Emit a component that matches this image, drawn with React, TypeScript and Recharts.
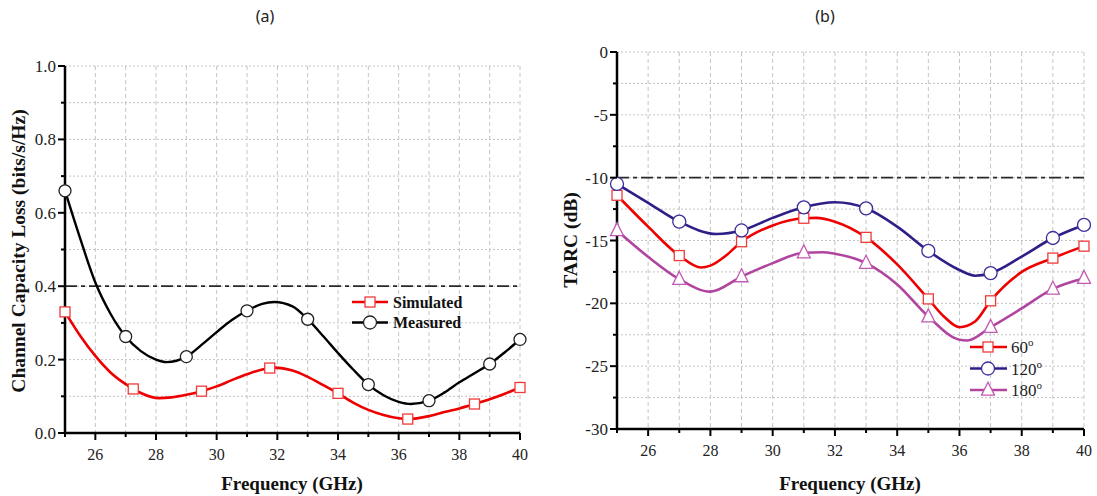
import { ComposedChart, Line, XAxis, YAxis, CartesianGrid, ReferenceLine } from 'recharts'

// ── Data ───────────────────────────────────────────────────────────────────────
const freqTicks = [25, 26, 27, 28, 29, 30, 31, 32, 33, 34, 35, 36, 37, 38, 39, 40]
const freqMajor = [26, 28, 30, 32, 34, 36, 38, 40]

const capTicks = [0, 0.1, 0.2, 0.3, 0.4, 0.5, 0.6, 0.7, 0.8, 0.9, 1.0]
const capMajor = [0, 0.2, 0.4, 0.6, 0.8, 1.0]

const tarcTicks = [-30, -27.5, -25, -22.5, -20, -17.5, -15, -12.5, -10, -7.5, -5, -2.5, 0]
const tarcMajor = [-30, -25, -20, -15, -10, -5, 0]

// (a) channel capacity loss
const measuredCurve = [
  { x: 25, y: 0.66 }, { x: 25.5, y: 0.53 }, { x: 26, y: 0.41 }, { x: 26.5, y: 0.325 },
  { x: 27, y: 0.263 }, { x: 27.5, y: 0.223 }, { x: 28, y: 0.2 }, { x: 28.35, y: 0.193 },
  { x: 29, y: 0.208 }, { x: 29.5, y: 0.24 }, { x: 30, y: 0.275 }, { x: 30.5, y: 0.308 },
  { x: 31, y: 0.333 }, { x: 31.5, y: 0.352 }, { x: 31.9, y: 0.357 }, { x: 32.5, y: 0.345 },
  { x: 33, y: 0.31 }, { x: 33.5, y: 0.265 }, { x: 34, y: 0.218 }, { x: 34.5, y: 0.173 },
  { x: 35, y: 0.132 }, { x: 35.5, y: 0.103 }, { x: 36, y: 0.085 }, { x: 36.4, y: 0.079 },
  { x: 37, y: 0.088 }, { x: 37.5, y: 0.11 }, { x: 38, y: 0.138 }, { x: 38.5, y: 0.163 },
  { x: 39, y: 0.188 }, { x: 39.5, y: 0.22 }, { x: 40, y: 0.255 },
]
const measuredMarks = [
  { x: 25, y: 0.66 }, { x: 27, y: 0.263 }, { x: 29, y: 0.208 }, { x: 31, y: 0.333 },
  { x: 33, y: 0.31 }, { x: 35, y: 0.132 }, { x: 37, y: 0.088 }, { x: 39, y: 0.188 },
  { x: 40, y: 0.255 },
]
const simulatedCurve = [
  { x: 25, y: 0.33 }, { x: 25.5, y: 0.265 }, { x: 26, y: 0.21 }, { x: 26.5, y: 0.165 },
  { x: 27, y: 0.133 }, { x: 27.25, y: 0.12 }, { x: 27.5, y: 0.109 }, { x: 28.1, y: 0.095 },
  { x: 28.5, y: 0.097 }, { x: 29, y: 0.104 }, { x: 29.5, y: 0.114 }, { x: 30, y: 0.127 },
  { x: 30.5, y: 0.144 }, { x: 31, y: 0.16 }, { x: 31.5, y: 0.173 }, { x: 31.9, y: 0.178 },
  { x: 32.5, y: 0.17 }, { x: 33, y: 0.153 }, { x: 33.5, y: 0.131 }, { x: 34, y: 0.108 },
  { x: 34.5, y: 0.083 }, { x: 35, y: 0.063 }, { x: 35.5, y: 0.049 }, { x: 36, y: 0.04 },
  { x: 36.3, y: 0.038 }, { x: 37, y: 0.046 }, { x: 37.5, y: 0.057 }, { x: 38, y: 0.067 },
  { x: 38.5, y: 0.079 }, { x: 39, y: 0.092 }, { x: 39.5, y: 0.107 }, { x: 40, y: 0.124 },
]
const simulatedMarks = [
  { x: 25, y: 0.33 }, { x: 27.25, y: 0.12 }, { x: 29.5, y: 0.114 }, { x: 31.75, y: 0.177 },
  { x: 34, y: 0.108 }, { x: 36.3, y: 0.038 }, { x: 38.5, y: 0.079 }, { x: 40, y: 0.124 },
]

// (b) TARC
const tarc60Curve = [
  { x: 25, y: -11.4 }, { x: 26, y: -13.9 }, { x: 27, y: -16.2 }, { x: 27.7, y: -17.15 },
  { x: 28, y: -17.0 }, { x: 28.5, y: -16.2 }, { x: 29, y: -15.1 }, { x: 30, y: -13.8 },
  { x: 31, y: -13.23 }, { x: 31.4, y: -13.2 }, { x: 32, y: -13.5 }, { x: 33, y: -14.75 },
  { x: 34, y: -16.9 }, { x: 35, y: -19.65 }, { x: 35.5, y: -21.05 }, { x: 36, y: -21.9 },
  { x: 36.5, y: -21.45 }, { x: 37, y: -19.8 }, { x: 38, y: -17.5 }, { x: 39, y: -16.4 },
  { x: 40, y: -15.45 },
]
const tarc60Marks = [
  { x: 25, y: -11.4 }, { x: 27, y: -16.2 }, { x: 29, y: -15.1 }, { x: 31, y: -13.23 },
  { x: 33, y: -14.75 }, { x: 35, y: -19.65 }, { x: 37, y: -19.8 }, { x: 39, y: -16.4 },
  { x: 40, y: -15.45 },
]
const tarc120Curve = [
  { x: 25, y: -10.5 }, { x: 26, y: -12.0 }, { x: 27, y: -13.5 }, { x: 28.2, y: -14.48 },
  { x: 29, y: -14.2 }, { x: 30, y: -13.2 }, { x: 31, y: -12.36 }, { x: 32, y: -11.96 },
  { x: 33, y: -12.44 }, { x: 34, y: -13.9 }, { x: 35, y: -15.83 }, { x: 36, y: -17.35 },
  { x: 36.5, y: -17.8 }, { x: 37, y: -17.6 }, { x: 38, y: -16.28 }, { x: 39, y: -14.8 },
  { x: 40, y: -13.76 },
]
const tarc120Marks = [
  { x: 25, y: -10.5 }, { x: 27, y: -13.5 }, { x: 29, y: -14.2 }, { x: 31, y: -12.36 },
  { x: 33, y: -12.44 }, { x: 35, y: -15.83 }, { x: 37, y: -17.6 }, { x: 39, y: -14.8 },
  { x: 40, y: -13.76 },
]
const tarc180Curve = [
  { x: 25, y: -14.2 }, { x: 26, y: -16.3 }, { x: 27, y: -18.08 }, { x: 28, y: -19.07 },
  { x: 29, y: -17.87 }, { x: 30, y: -16.8 }, { x: 31, y: -15.97 }, { x: 31.6, y: -15.93 },
  { x: 32, y: -16.05 }, { x: 33, y: -16.8 }, { x: 34, y: -18.5 }, { x: 35, y: -21.06 },
  { x: 36, y: -22.9 }, { x: 36.25, y: -22.96 }, { x: 37, y: -21.9 }, { x: 38, y: -20.4 },
  { x: 39, y: -18.85 }, { x: 40, y: -18.0 },
]
const tarc180Marks = [
  { x: 25, y: -14.2 }, { x: 27, y: -18.08 }, { x: 29, y: -17.87 }, { x: 31, y: -15.97 },
  { x: 33, y: -16.8 }, { x: 35, y: -21.06 }, { x: 37, y: -21.9 }, { x: 39, y: -18.85 },
  { x: 40, y: -18.0 },
]

// ── Styles ─────────────────────────────────────────────────────────────────────
const SERIF = '"Liberation Serif", "Times New Roman", serif'
const RED = '#ee0000'
const NAVY = '#2e1f88'
const MAGENTA = '#b0449f'
const GRID = '#c4c4c4'

const isIn = (list: number[], v: number) => list.some(m => Math.abs(m - v) < 1e-6)

// ── Ticks ──────────────────────────────────────────────────────────────────────
function XTick({ x, y, payload, majors }: any) {
  const major = isIn(majors, payload.value)
  return (
    <g>
      <line x1={x} x2={x} y1={y} y2={y + (major ? 7 : 4)} stroke="#000" strokeWidth={2} />
      {major && (
        <text x={x} y={y + 27} textAnchor="middle" fontFamily={SERIF} fontSize={16} fill="#222">
          {payload.value}
        </text>
      )}
    </g>
  )
}

function YTick({ x, y, payload, majors, fmt }: any) {
  const major = isIn(majors, payload.value)
  return (
    <g>
      <line x1={x} x2={x - (major ? 7 : 4)} y1={y} y2={y} stroke="#000" strokeWidth={2} />
      {major && (
        <text x={x - 9} y={y + 6} textAnchor="end" fontFamily={SERIF} fontSize={17} fill="#222">
          {fmt(payload.value)}
        </text>
      )}
    </g>
  )
}

// ── Markers ────────────────────────────────────────────────────────────────────
const squareDot = (color: string, s: number) => (p: any) => (
  <rect key={p.index} x={p.cx - s / 2} y={p.cy - s / 2} width={s} height={s}
    fill="#fff" stroke={color} strokeWidth={1.3} />
)
const circleDot = (color: string, r: number) => (p: any) => (
  <circle key={p.index} cx={p.cx} cy={p.cy} r={r} fill="#fff" stroke={color} strokeWidth={1.3} />
)
const triDot = (color: string, s: number) => (p: any) => (
  <polygon key={p.index}
    points={`${p.cx},${p.cy - s * 0.6} ${p.cx - s / 2},${p.cy + s * 0.4} ${p.cx + s / 2},${p.cy + s * 0.4}`}
    fill="#fff" stroke={color} strokeWidth={1.3} />
)

const frameLine = { stroke: '#000', strokeWidth: 2.5 }
const thresholdDash = '12 4 4 4'

// ── Charts ─────────────────────────────────────────────────────────────────────
function CapacityChart() {
  return (
    <ComposedChart width={560} height={496} margin={{ top: 66, right: 40, left: 0, bottom: 0 }}>
      <CartesianGrid horizontal vertical={false} stroke={GRID} strokeDasharray="2 2" />
      <CartesianGrid horizontal={false} vertical stroke={GRID} strokeDasharray="4 3" />
      <XAxis dataKey="x" type="number" domain={[25, 40]} ticks={freqTicks} interval={0}
        height={63} tickSize={0} tickMargin={0} tickLine={false} axisLine={frameLine}
        tick={(p: any) => <XTick {...p} majors={freqMajor} />} />
      <XAxis xAxisId="top" orientation="top" type="number" domain={[25, 40]} height={0}
        tick={false} tickLine={false} axisLine={frameLine} />
      <YAxis type="number" domain={[0, 1]} ticks={capTicks} interval={0} width={65}
        tickSize={0} tickMargin={0} tickLine={false} axisLine={frameLine}
        tick={(p: any) => <YTick {...p} majors={capMajor} fmt={(v: number) => v.toFixed(1)} />} />
      <YAxis yAxisId="right" orientation="right" type="number" domain={[0, 1]} width={0}
        tick={false} tickLine={false} axisLine={frameLine} />
      <ReferenceLine y={0.4} stroke="#2a2a2a" strokeWidth={1.7} strokeDasharray={thresholdDash} />
      <Line data={simulatedCurve} dataKey="y" type="monotone" stroke={RED} strokeWidth={2.6}
        dot={false} isAnimationActive={false} />
      <Line data={measuredCurve} dataKey="y" type="monotone" stroke="#000" strokeWidth={2.4}
        dot={false} isAnimationActive={false} />
      <Line data={simulatedMarks} dataKey="y" stroke="none" dot={squareDot('#f03a3a', 10)}
        activeDot={false} isAnimationActive={false} />
      <Line data={measuredMarks} dataKey="y" stroke="none" dot={circleDot('#222', 6)}
        activeDot={false} isAnimationActive={false} />
    </ComposedChart>
  )
}

function TarcChart() {
  return (
    <ComposedChart width={537} height={496} margin={{ top: 52, right: 13, left: 0, bottom: 0 }}>
      <CartesianGrid horizontal vertical={false} stroke={GRID} strokeDasharray="2 2" />
      <CartesianGrid horizontal={false} vertical stroke={GRID} strokeDasharray="4 3" />
      <XAxis dataKey="x" type="number" domain={[25, 40]} ticks={freqTicks} interval={0}
        height={67} tickSize={0} tickMargin={0} tickLine={false} axisLine={frameLine}
        tick={(p: any) => <XTick {...p} majors={freqMajor} />} />
      <XAxis xAxisId="top" orientation="top" type="number" domain={[25, 40]} height={0}
        tick={false} tickLine={false} axisLine={frameLine} />
      <YAxis type="number" domain={[-30, 0]} ticks={tarcTicks} interval={0} width={57}
        tickSize={0} tickMargin={0} tickLine={false} axisLine={frameLine}
        tick={(p: any) => <YTick {...p} majors={tarcMajor} fmt={(v: number) => String(v)} />} />
      <YAxis yAxisId="right" orientation="right" type="number" domain={[-30, 0]} width={0}
        tick={false} tickLine={false} axisLine={frameLine} />
      <ReferenceLine y={-10} stroke="#2a2a2a" strokeWidth={1.7} strokeDasharray={thresholdDash} />
      <Line data={tarc180Curve} dataKey="y" type="monotone" stroke={MAGENTA} strokeWidth={2.6}
        dot={false} isAnimationActive={false} />
      <Line data={tarc60Curve} dataKey="y" type="monotone" stroke={RED} strokeWidth={2.6}
        dot={false} isAnimationActive={false} />
      <Line data={tarc120Curve} dataKey="y" type="monotone" stroke={NAVY} strokeWidth={2.6}
        dot={false} isAnimationActive={false} />
      <Line data={tarc180Marks} dataKey="y" stroke="none" dot={triDot('#c25ab4', 13)}
        activeDot={false} isAnimationActive={false} />
      <Line data={tarc60Marks} dataKey="y" stroke="none" dot={squareDot('#f03a3a', 10)}
        activeDot={false} isAnimationActive={false} />
      <Line data={tarc120Marks} dataKey="y" stroke="none" dot={circleDot('#3b2e9c', 6.5)}
        activeDot={false} isAnimationActive={false} />
    </ComposedChart>
  )
}

// ── Legends ────────────────────────────────────────────────────────────────────
const capLegend = [
  { name: 'Simulated', color: RED, mark: 'square' },
  { name: 'Measured', color: '#000', mark: 'circle' },
]
const tarcLegend = [
  { name: '60', color: RED, mark: 'square' },
  { name: '120', color: NAVY, mark: 'circle' },
  { name: '180', color: MAGENTA, mark: 'triangle' },
]

function LegendMark({ mark, cx, cy, color }: { mark: string; cx: number; cy: number; color: string }) {
  if (mark === 'square') return squareDot('#f03a3a', 10)({ cx, cy, index: 0 })
  if (mark === 'circle') return circleDot(color === '#000' ? '#222' : '#3b2e9c', 6.5)({ cx, cy, index: 0 })
  return triDot('#c25ab4', 13)({ cx, cy, index: 0 })
}

export default function App() {
  return (
    <div style={{ position: 'absolute', left: 0, top: 0, width: 1097, height: 496, background: '#fff' }}>
      <div style={{ position: 'absolute', left: 0, top: 0 }}><CapacityChart /></div>
      <div style={{ position: 'absolute', left: 560, top: 0 }}><TarcChart /></div>

      <svg width={1097} height={496} style={{ position: 'absolute', left: 0, top: 0, pointerEvents: 'none' }}>
        <text x={265} y={22} textAnchor="middle" fontFamily='"Noto Sans", sans-serif' fontSize={16} fill="#222">(a)</text>
        <text x={825} y={22} textAnchor="middle" fontFamily='"Noto Sans", sans-serif' fontSize={16} fill="#222">(b)</text>

        <text x={292} y={490} textAnchor="middle" fontFamily={SERIF} fontWeight="bold" fontSize={19} fill="#111">
          Frequency (GHz)
        </text>
        <text x={850} y={490} textAnchor="middle" fontFamily={SERIF} fontWeight="bold" fontSize={19} fill="#111">
          Frequency (GHz)
        </text>
        <text transform="translate(25,251) rotate(-90)" textAnchor="middle" fontFamily={SERIF}
          fontWeight="bold" fontSize={19.5} fill="#111">
          Channel Capacity Loss (bits/s/Hz)
        </text>
        <text transform="translate(577,240) rotate(-90)" textAnchor="middle" fontFamily={SERIF}
          fontWeight="bold" fontSize={19.5} fill="#111">
          TARC (dB)
        </text>

        {capLegend.map((s, i) => {
          const cy = 302 + i * 20.5
          return (
            <g key={s.name}>
              <line x1={352} x2={388} y1={cy} y2={cy} stroke={s.color} strokeWidth={2.6} />
              <LegendMark mark={s.mark} cx={370} cy={cy} color={s.color} />
              <text x={393} y={cy + 5.5} fontFamily={SERIF} fontWeight="bold" fontSize={16} fill="#111">{s.name}</text>
            </g>
          )
        })}
        {tarcLegend.map((s, i) => {
          const cy = 347 + i * 21.5
          return (
            <g key={s.name}>
              <line x1={970} x2={1007} y1={cy} y2={cy} stroke={s.color} strokeWidth={2.6} />
              <LegendMark mark={s.mark} cx={988} cy={cy} color={s.color} />
              <text x={1011} y={cy + 6} fontFamily={SERIF} fontSize={17} fill="#222">
                {s.name}<tspan dy={-7} fontSize={11}>o</tspan>
              </text>
            </g>
          )
        })}
      </svg>
    </div>
  )
}
